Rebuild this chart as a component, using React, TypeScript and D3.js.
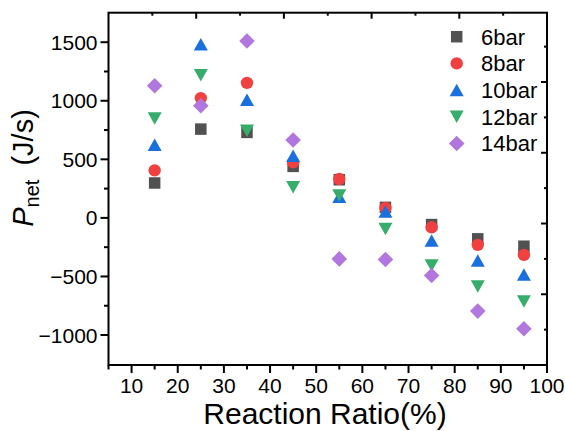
import React from "react";
import * as d3 from "d3";

const xValues = [15, 25, 35, 45, 55, 65, 75, 85, 95];
const seriesNames = ["6bar", "8bar", "10bar", "12bar", "14bar"];
const s6 = [298, 758, 730, 440, 326, 90, -57, -179, -242];
const s8 = [406, 1023, 1153, 474, 332, 85, -80, -230, -316];
const s10 = [625, 1483, 1008, 531, 180, 54, -194, -364, -483];
const s12 = [849, 1219, 744, 261, 192, -94, -407, -586, -713];
const s14 = [1128, 957, 1511, 665, -350, -355, -492, -796, -946];
const seriesValues = [s6, s8, s10, s12, s14];
const colors = ["#515151", "#F14040", "#1A6FDF", "#37AD6B", "#B177DE"];
const shapes = ["square", "circle", "triangleUp", "triangleDown", "diamond"];

const xTicks = [10, 20, 30, 40, 50, 60, 70, 80, 90, 100];
const xMinorTicks = [5, 15, 25, 35, 45, 55, 65, 75, 85, 95];
const yTicks = [-1000, -500, 0, 500, 1000, 1500];
const yMinorTicks = [-750, -250, 250, 750, 1250];
const secondaryTicks = [1, 2, 3, 4, 5, 6, 7, 8, 9];

const W = 565, H = 431;
const L = 108.5, R = 547, T = 12.7, B = 365;
const FONT = "'Liberation Sans', Arial, sans-serif";

function Marker({ shape, cx, cy, color }: { shape: string; cx: number; cy: number; color: string }) {
  if (shape === "square") {
    const s = 11.5;
    return <rect x={cx - s / 2} y={cy - s / 2} width={s} height={s} fill={color} />;
  }
  if (shape === "circle") return <circle cx={cx} cy={cy} r={6.2} fill={color} />;
  if (shape === "triangleUp") {
    const w = 14, h = 12.5;
    return <path d={`M${cx},${cy - h / 2}L${cx + w / 2},${cy + h / 2}L${cx - w / 2},${cy + h / 2}Z`} fill={color} />;
  }
  if (shape === "triangleDown") {
    const w = 14, h = 12.5;
    return <path d={`M${cx},${cy + h / 2}L${cx + w / 2},${cy - h / 2}L${cx - w / 2},${cy - h / 2}Z`} fill={color} />;
  }
  const d = 7.8;
  return <path d={`M${cx},${cy - d}L${cx + d},${cy}L${cx},${cy + d}L${cx - d},${cy}Z`} fill={color} />;
}

export default function App() {
  const x = d3.scaleLinear().domain([5, 100]).range([L, R]);
  const y = d3.scaleLinear().domain([-1256, 1752]).range([B, T]);
  const xTop = d3.scaleLinear().domain([0, 10]).range([L, R]);
  const yRight = d3.scaleLinear().domain([0, 9.96]).range([B, T]);

  return (
    <svg width={W} height={H} style={{ position: "absolute", left: 0, top: 0, background: "#fff" }} fontFamily={FONT}>
      <rect width={W} height={H} fill="#fff" />
      {seriesValues.map((vals, si) =>
        vals.map((v, i) => (
          <Marker key={`${si}-${i}`} shape={shapes[si]} cx={x(xValues[i])} cy={y(v)} color={colors[si]} />
        ))
      )}
      <rect x={L} y={T} width={R - L} height={B - T} fill="none" stroke="#000" strokeWidth={2} />
      {yTicks.map((t) => (
        <g key={`yt${t}`}>
          <line x1={L - 8} x2={L} y1={y(t)} y2={y(t)} stroke="#000" strokeWidth={2} />
          <text x={L - 11} y={y(t)} dy="0.36em" textAnchor="end" fontSize={21} fill="#000">
            {t < 0 ? `\u2212${Math.abs(t)}` : `${t}`}
          </text>
        </g>
      ))}
      {yMinorTicks.map((t) => (
        <line key={`ym${t}`} x1={L - 4.5} x2={L} y1={y(t)} y2={y(t)} stroke="#000" strokeWidth={2} />
      ))}
      {xTicks.map((t) => (
        <g key={`xt${t}`}>
          <line x1={x(t)} x2={x(t)} y1={B} y2={B + 8} stroke="#000" strokeWidth={2} />
          <text x={x(t)} y={393} textAnchor="middle" fontSize={21} fill="#000">{t}</text>
        </g>
      ))}
      {xMinorTicks.map((t) => (
        <line key={`xm${t}`} x1={x(t)} x2={x(t)} y1={B} y2={B + 4.5} stroke="#000" strokeWidth={2} />
      ))}
      {secondaryTicks.map((t) => (
        <line key={`tt${t}`} x1={xTop(t)} x2={xTop(t)} y1={T} y2={T + (t % 2 === 0 ? 6 : 3)} stroke="#000" strokeWidth={2} />
      ))}
      {secondaryTicks.map((t) => (
        <line key={`rt${t}`} x1={R} x2={R - (t % 2 === 0 ? 6 : 3)} y1={yRight(t)} y2={yRight(t)} stroke="#000" strokeWidth={2} />
      ))}
      {seriesNames.map((n, i) => (
        <g key={n}>
          <Marker shape={shapes[i]} cx={456.7} cy={36.7 + i * 26.7} color={colors[i]} />
          <text x={481} y={36.7 + i * 26.7} dy="0.36em" fontSize={22} fill="#000">{n}</text>
        </g>
      ))}
      <text x={325} y={424} textAnchor="middle" fontSize={30} fill="#000">Reaction Ratio(%)</text>
      <text transform="translate(33,168) rotate(-90)" textAnchor="middle" fontSize={29} fill="#000">
        <tspan fontStyle="italic">P</tspan>
        <tspan fontSize={20} dy={6}>net</tspan>
        <tspan dy={-6} dx={6}> (J/s)</tspan>
      </text>
    </svg>
  );
}
